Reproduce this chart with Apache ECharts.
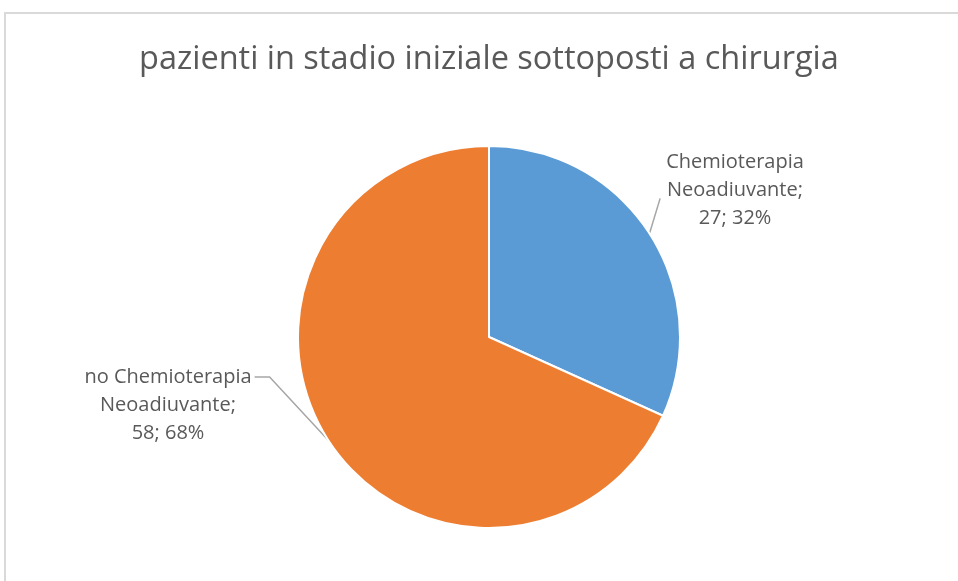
<!DOCTYPE html>
<html><head><meta charset="utf-8">
<script src="https://cdn.jsdelivr.net/npm/echarts@6/dist/echarts.min.js"></script>
<style>html,body{margin:0;padding:0;background:#fff}#c{width:958px;height:581px}</style>
</head><body><div id="c"></div>
<script>
const title = 'pazienti in stadio iniziale sottoposti a chirurgia';
const categories = ['Chemioterapia Neoadiuvante', 'no Chemioterapia Neoadiuvante'];
const labelLines = [['Chemioterapia', 'Neoadiuvante;'], ['no Chemioterapia', 'Neoadiuvante;']];
const values = [27, 58];
const colors = ['#5b9bd5', '#ed7d31'];

const total = values.reduce((a, b) => a + b, 0);
const labelPos = [{x: 735, y: 190}, {x: 168, y: 405}];
const chart = echarts.init(document.getElementById('c'));
chart.setOption({
  animation: false,
  title: {text: title, left: 134, top: 38,
    textStyle: {fontFamily: 'Open Sans', fontSize: 32.5, fontWeight: 'normal', color: '#595959'}},
  graphic: [{type: 'rect', shape: {x: 5, y: 13, width: 980, height: 600},
    style: {fill: null, stroke: '#d9d9d9', lineWidth: 2}, silent: true}],
  series: [{
    type: 'pie',
    center: [489, 337],
    radius: 191,
    startAngle: 90,
    clockwise: true,
    data: categories.map((c, i) => ({name: c, value: values[i], itemStyle: {color: colors[i]}})),
    itemStyle: {borderColor: '#fff', borderWidth: 2},
    label: {
      show: true,
      formatter: p => labelLines[p.dataIndex].join('\n') + '\n' + values[p.dataIndex] + '; ' + Math.round(values[p.dataIndex] / total * 100) + '%',
      fontFamily: 'Open Sans', fontSize: 20, lineHeight: 28, color: '#595959', align: 'center'
    },
    labelLine: {show: true, length: 10, length2: 10, lineStyle: {color: '#a6a6a6', width: 1.5}},
    labelLayout: p => {
      const pos = labelPos[p.dataIndex];
      const r = p.labelRect;
      const rx = pos.x - r.width / 2, ry = pos.y - r.height / 2;
      const start = p.labelLinePoints ? p.labelLinePoints[0] : null;
      const out = {x: pos.x, y: pos.y, align: 'center', verticalAlign: 'middle'};
      if (start) {
        if (p.dataIndex === 0) {
          out.labelLinePoints = [start, [rx - 6, ry + r.height * 0.6]];
        } else {
          const yy = ry + 14;
          out.labelLinePoints = [start, [rx + r.width + 18, yy], [rx + r.width + 3, yy]];
        }
      }
      return out;
    }
  }]
});
</script></body></html>
